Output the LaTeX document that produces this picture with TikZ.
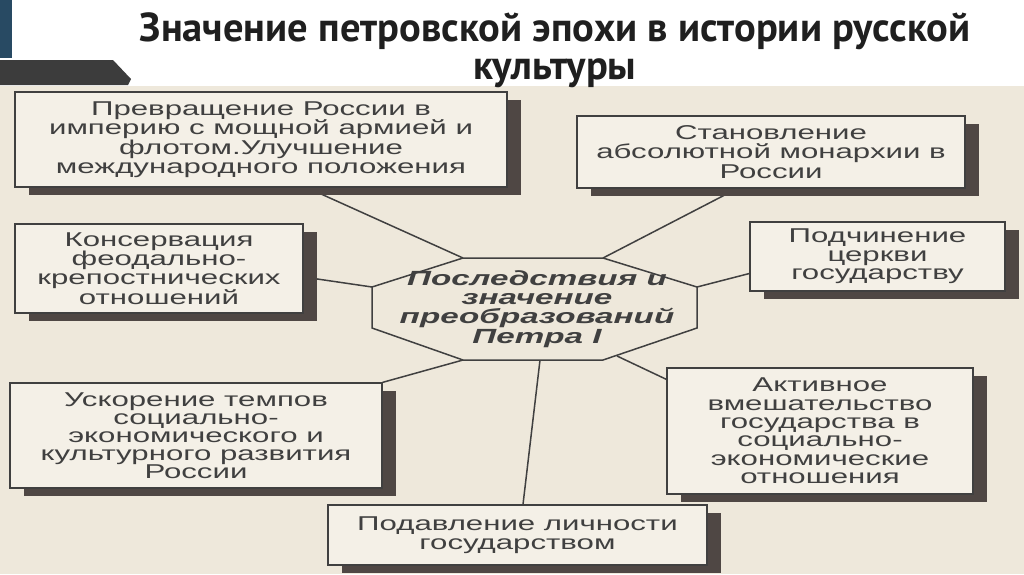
\documentclass[tikz,border=0pt]{standalone}
\usepackage{fontspec}
\setmainfont{Liberation Sans}
\newfontfamily\headfont{PT Sans}
\newfontfamily\boxfont[FakeStretch=1.56]{Liberation Sans}
\newfontfamily\corefont[FakeStretch=1.62]{Liberation Sans}
\usetikzlibrary{shadows,backgrounds}
\definecolor{paper}{HTML}{EEE8DB}
\definecolor{boxfill}{HTML}{F4F0E7}
\definecolor{ink}{HTML}{404040}
\definecolor{shade}{HTML}{4F4744}
\definecolor{slideblue}{HTML}{284A63}
\definecolor{slidegrey}{HTML}{3C3C3C}

\begin{document}
\begin{tikzpicture}[x=1pt, y=-1pt,
    card/.style={draw=ink, line width=1.3pt, fill=boxfill, inner sep=0pt, align=center, text=ink,
      font=\boxfont\fontsize{20}{18.5}\selectfont,
      drop shadow={shadow xshift=14pt, shadow yshift=-8pt, fill=shade, opacity=1}},
    link/.style={draw=ink, line width=1.5pt}]
    \useasboundingbox (0,0) rectangle (1024,574);

    % Slide header
    \fill[white] (0,0) rectangle (1024,86);
    \fill[slideblue] (0,0) rectangle (12,58);
    \fill[slidegrey] (0,60) -- (113,60) -- (131,79) -- (128,85) -- (0,85) -- cycle;
    \node[font=\headfont\bfseries\fontsize{40.5}{38}\selectfont, text=black!88, align=center, inner sep=0pt] (title) at (555,50)
        {Значение петровской эпохи в истории русской\\культуры};

    % Scanned page
    \begin{pgfonlayer}{background}
        \fill[paper] (0,86) rectangle (1024,574);
    \end{pgfonlayer}

    % Boxes round the centre
    \node[card, minimum width=492pt, minimum height=95pt, font=\boxfont\fontsize{20}{19.5}\selectfont] (empire) at (261,139.5)
        {Превращение России в\\империю с мощной армией и\\флотом.Улучшение\\международного положения};
    \node[card, minimum width=388pt, minimum height=72pt, font=\boxfont\fontsize{20}{19.5}\selectfont] (absol) at (771,152)
        {Становление\\абсолютной монархии в\\России};
    \node[card, minimum width=288pt, minimum height=89pt] (serf) at (159,268.5)
        {Консервация\\феодально-\\крепостнических\\отношений};
    \node[card, minimum width=255pt, minimum height=69pt] (church) at (877.5,256.5)
        {Подчинение\\церкви\\государству};
    \node[card, minimum width=372pt, minimum height=105pt, font=\boxfont\fontsize{20}{18}\selectfont] (pace) at (196,435.5)
        {Ускорение темпов\\социально-\\экономического и\\культурного развития\\России};
    \node[card, minimum width=306pt, minimum height=126pt, font=\boxfont\fontsize{20}{18.4}\selectfont] (inter) at (820,431)
        {Активное\\вмешательство\\государства в\\социально-\\экономические\\отношения};
    \node[card, minimum width=379pt, minimum height=60pt] (person) at (517.5,535)
        {Подавление личности\\государством};

    % Central octagon
    \coordinate (tl) at (463,258);
    \coordinate (tr) at (603,258);
    \coordinate (rt) at (697,287);
    \coordinate (rb) at (697,328);
    \coordinate (br) at (603,360);
    \coordinate (bl) at (463,360);
    \coordinate (lb) at (372,328);
    \coordinate (lt) at (372,287);
    \coordinate (fdock) at (617,356);
    \coordinate (gdock) at (540,360);
    \fill[shade, shift={(12,7)}] (tl) -- (tr) -- (rt) -- (rb) -- (br) -- (bl) -- (lb) -- (lt) -- cycle;
    \filldraw[fill=paper, draw=ink, line width=1.5pt] (tl) -- (tr) -- (rt) -- (rb) -- (br) -- (bl) -- (lb) -- (lt) -- cycle;
    \node[font=\corefont\bfseries\itshape\fontsize{20.5}{19.3}\selectfont, text=ink, align=center] (core) at (537,309)
        {Последствия и\\значение\\преобразований\\Петра I};

    % Connectors
    \begin{scope}[on background layer]
        \draw[link] ([xshift=46pt]empire.south) -- (tl);
        \draw[link] ([xshift=-34pt]absol.south) -- (tr);
        \draw[link] ([yshift=-8.5pt]serf.east) -- (lt);
        \draw[link] ([yshift=-17pt]church.west) -- (rt);
        \draw[link] (pace.north east) -- (bl);
        \draw[link] ([yshift=-12pt]inter.north west) -- (fdock);
        \draw[link] ([xshift=5.5pt]person.north) -- (gdock);
    \end{scope}
\end{tikzpicture}
\end{document}
